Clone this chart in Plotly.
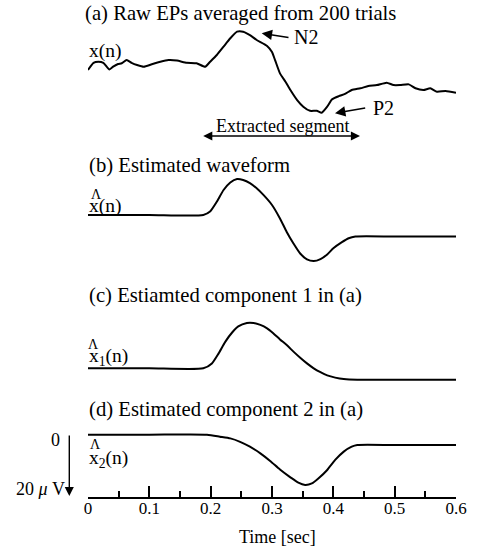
import plotly.graph_objects as go

# ---------------- data (values in microvolts, positive plotted downward) ----------------
time_raw = [0.000, 0.009, 0.017, 0.025, 0.035, 0.041, 0.049, 0.055, 0.063, 0.071, 0.080, 0.091,
            0.104, 0.118, 0.131, 0.145, 0.161, 0.177, 0.191, 0.199, 0.210, 0.221, 0.232, 0.243,
            0.253, 0.264, 0.275, 0.292, 0.300, 0.305, 0.313, 0.322, 0.330, 0.341, 0.351, 0.362,
            0.373, 0.381, 0.390, 0.398, 0.409, 0.419, 0.430, 0.444, 0.457, 0.471, 0.487, 0.498,
            0.509, 0.523, 0.534, 0.547, 0.558, 0.569, 0.583, 0.600]
raw_ep = [2.0, -0.9, -1.3, -0.9, 1.8, 0.7, -0.4, -0.7, -2.0, -0.9, 0.0, 0.7,
          -0.3, -1.3, -2.0, -1.8, -0.9, -0.7, 0.7, -1.3, -4.1, -7.5, -10.9, -13.6,
          -13.6, -12.2, -10.2, -7.8, -5.3, -2.0, 3.4, 6.8, 10.2, 14.3, 17.0, 18.7,
          18.7, 19.5, 17.0, 14.0, 12.7, 11.8, 10.2, 9.5, 8.6, 8.2, 7.2, 8.2,
          8.2, 7.9, 9.5, 10.2, 9.5, 10.9, 10.6, 11.3]

time_est = [0.000, 0.100, 0.188, 0.199, 0.210, 0.221, 0.232, 0.243, 0.253, 0.264, 0.275, 0.286,
            0.300, 0.313, 0.324, 0.335, 0.346, 0.357, 0.368, 0.379, 0.390, 0.400, 0.414, 0.425,
            0.436, 0.500, 0.600]
est_wave = [0, 0, 0, -1.4, -5.4, -10.2, -13.3, -14.7, -14.3, -13.0, -10.9, -8.2,
            -4.1, 1.4, 6.9, 11.6, 15.7, 18.1, 18.8, 18.0, 16.1, 13.6, 11.1, 9.5,
            8.8, 8.8, 8.8]

time_c1 = [0.000, 0.100, 0.188, 0.202, 0.213, 0.224, 0.235, 0.245, 0.259, 0.270, 0.281, 0.292,
           0.302, 0.313, 0.324, 0.335, 0.346, 0.357, 0.368, 0.379, 0.390, 0.403, 0.417, 0.439,
           0.500, 0.600]
comp1 = [0, 0, 0, -2.0, -6.1, -10.9, -14.6, -17.1, -18.5, -18.5, -17.7, -16.3,
         -14.3, -11.8, -9.5, -6.8, -4.3, -2.0, 0.0, 1.6, 2.9, 3.8, 4.4, 4.7,
         4.7, 4.7]

time_c2 = [0.000, 0.100, 0.194, 0.215, 0.232, 0.248, 0.264, 0.281, 0.297, 0.313, 0.330, 0.343,
           0.354, 0.365, 0.376, 0.390, 0.403, 0.417, 0.430, 0.439, 0.500, 0.600]
comp2 = [0, 0, 0, 0.8, 1.5, 2.9, 4.9, 7.6, 10.7, 14.2, 17.4, 19.6,
         20.5, 19.9, 17.8, 14.4, 10.3, 6.9, 4.9, 4.2, 4.2, 4.2]

x_ticks = [0, 0.1, 0.2, 0.3, 0.4, 0.5, 0.6]
x_tick_text = ["0", "0.1", "0.2", "0.3", "0.4", "0.5", "0.6"]

# ---------------- layout geometry ----------------
W, H = 477, 547
ML, MR, MT, MB = 88, 21, 0, 50
PW, PH = W - ML - MR, H - MT - MB
PX_PER_UV = 2.45
FONT = "Liberation Serif"

def px(xp):  # pixel x -> paper
    return (xp - ML) / PW

def py(yp):  # pixel y -> paper
    return 1 - (yp - MT) / PH

def base(yp):  # pixel baseline -> data offset
    return (yp - MT) / PX_PER_UV

panels = [
    (time_raw, raw_ep, base(65), 0.5),
    (time_est, est_wave, base(215), 0.6),
    (time_c1, comp1, base(368.3), 0.6),
    (time_c2, comp2, base(434.7), 0.6),
]

fig = go.Figure()
for t, v, off, sm in panels:
    fig.add_trace(go.Scatter(
        x=t, y=[off + val for val in v], mode="lines",
        line=dict(color="black", width=2, shape="spline", smoothing=sm),
        hoverinfo="skip", showlegend=False))

annotations = []

def text(s, xp, yp, size=20.7, anchor="left"):
    annotations.append(dict(text=s, x=px(xp), y=py(yp), xref="paper", yref="paper",
                            xanchor=anchor, yanchor="middle", showarrow=False,
                            font=dict(family=FONT, size=size, color="black")))

def arrow(hx, hy, tx, ty, side="end", width=1.6, size=1.3):
    annotations.append(dict(text="", x=px(hx), y=py(hy), xref="paper", yref="paper",
                            ax=tx - hx, ay=ty - hy, showarrow=True, arrowhead=2,
                            arrowside=side, arrowwidth=width, arrowsize=size,
                            arrowcolor="black", standoff=0, startstandoff=0))

text("(a) Raw EPs averaged from 200 trials", 82.7, 14)
text("(b) Estimated waveform", 87, 166)
text("(c) Estiamted component 1 in (a)", 87, 295)
text("(d) Estimated component 2 in (a)", 87, 409)

text("x(n)", 87, 51, size=19.5)
text("x(n)", 87, 205.5, size=19.5)
text("\u039b", 96, 194, size=14, anchor="center")
text("x<sub>1</sub>(n)", 87, 357, size=19.5)
text("\u039b", 93.4, 344.5, size=14, anchor="center")
text("x<sub>2</sub>(n)", 87, 459, size=19.5)
text("\u039b", 95, 444, size=14, anchor="center")

text("N2", 292, 37, size=20)
text("P2", 371, 107.5, size=20)
text("Extracted segment", 282.5, 126.5, size=18, anchor="center")
text("0", 55, 440, size=18, anchor="center")
text("20 <i>\u03bc</i> V", 67, 488.5, size=18, anchor="right")
text("Time [sec]", 277, 537, size=18, anchor="center")

arrow(261.7, 33.3, 290, 37.7)
arrow(335, 113.3, 366.7, 107.7)
arrow(360, 136, 201.7, 136, side="end+start", width=1.4)
arrow(69.3, 496, 69.3, 434, width=1.4)

fig.update_layout(
    width=W, height=H,
    margin=dict(l=ML, r=MR, t=MT, b=MB, pad=0),
    paper_bgcolor="white", plot_bgcolor="white",
    annotations=annotations,
    xaxis=dict(range=[0, 0.6], tickvals=x_ticks, ticktext=x_tick_text,
               showline=True, linecolor="black", linewidth=2,
               ticks="inside", ticklen=11, tickwidth=2, tickcolor="black",
               minor=dict(tickvals=[0.05, 0.15, 0.25, 0.35, 0.45, 0.55], ticks="inside",
                          ticklen=6, tickwidth=2, tickcolor="black", showgrid=False),
               showgrid=False, zeroline=False, ticklabelstandoff=-5,
               tickfont=dict(family=FONT, size=17, color="black")),
    yaxis=dict(range=[PH / PX_PER_UV, 0], visible=False, showgrid=False, zeroline=False),
)

fig.write_html("out.html", config={"displayModeBar": False},
               post_script="document.body.style.margin='0';document.body.style.overflow='hidden';")
